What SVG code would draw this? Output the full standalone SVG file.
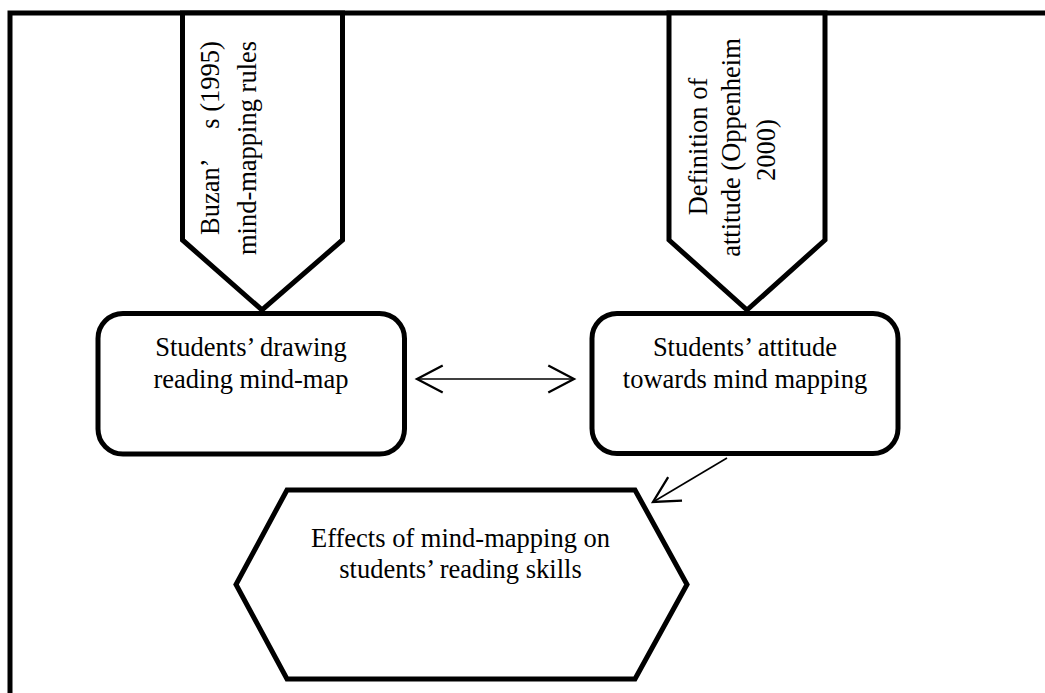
<svg xmlns="http://www.w3.org/2000/svg" width="1045" height="693" viewBox="0 0 1045 693">
<style>
  .shape { fill: #ffffff; stroke: #000000; stroke-width: 5; stroke-linejoin: miter; }
  .lbl { font-family: "Liberation Serif", "Times New Roman", serif; font-size: 26.5px; fill: #000000; }
  .mid { text-anchor: middle; }
  .conn { fill: none; stroke: #000000; stroke-width: 1.6; }
</style>
<defs>
  <marker id="openArrow" markerUnits="userSpaceOnUse" markerWidth="40" markerHeight="40" viewBox="-22 -14 26 28" refX="0" refY="0" orient="auto-start-reverse" overflow="visible">
    <path d="M -18 -9.5 L 0 0 L -18 9.5" fill="none" stroke="#000000" stroke-width="1.6"/>
  </marker>
</defs>
<rect width="1045" height="693" fill="#ffffff"/>
<g id="frame">
  <rect class="shape" x="10" y="13" width="1100" height="800" fill="none" style="fill:none"/>
</g>
<g id="node-buzan">
  <polygon class="shape" points="182.5,13 342.5,13 342.5,240 262,310 182.5,240"/>
  <text class="lbl mid" transform="translate(219,138) rotate(-90)">Buzan’<tspan dx="25"> s (1995)</tspan></text>
  <text class="lbl mid" transform="translate(256,148) rotate(-90)">mind-mapping rules</text>
</g>
<g id="node-definition">
  <polygon class="shape" points="669,13 825,13 825,240 747,310 669,240"/>
  <text class="lbl mid" transform="translate(707,146.5) rotate(-90)">Definition of</text>
  <text class="lbl mid" transform="translate(740,147.5) rotate(-90)">attitude (Oppenheim</text>
  <text class="lbl mid" transform="translate(775,150) rotate(-90)">2000)</text>
</g>
<g id="node-drawing">
  <rect class="shape" x="98" y="313.5" width="306.5" height="140.5" rx="25" ry="25"/>
  <text class="lbl mid" x="251" y="356">Students’ drawing</text>
  <text class="lbl mid" x="251" y="388">reading mind-map</text>
</g>
<g id="node-attitude">
  <rect class="shape" x="592" y="313.5" width="306" height="140" rx="25" ry="25"/>
  <text class="lbl mid" x="745" y="356">Students’ attitude</text>
  <text class="lbl mid" x="745" y="388">towards mind mapping</text>
</g>
<g id="node-effects">
  <polygon class="shape" points="287,490 635,490 687,584.5 635,679 287,679 236,584.5"/>
  <text class="lbl mid" x="460.5" y="547">Effects of mind-mapping on</text>
  <text class="lbl mid" x="460.5" y="578">students’ reading skills</text>
</g>
<g id="connectors">
  <line class="conn" x1="417" y1="379" x2="574" y2="379" marker-start="url(#openArrow)" marker-end="url(#openArrow)"/>
  <line class="conn" x1="727" y1="458" x2="653" y2="502" marker-end="url(#openArrow)"/>
</g>
</svg>
